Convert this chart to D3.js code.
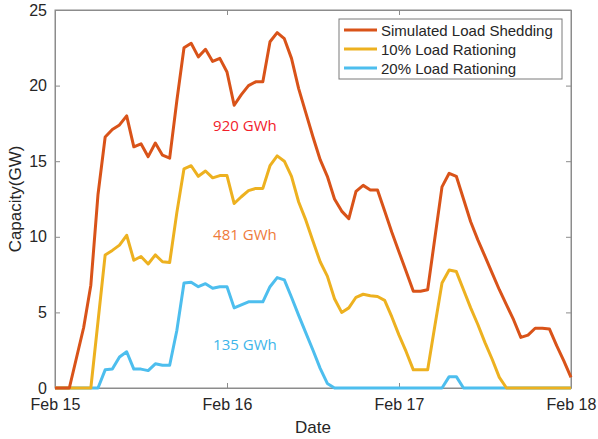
<!DOCTYPE html>
<html>
<head>
<meta charset="utf-8">
<script src="https://cdn.jsdelivr.net/npm/d3@7"></script>
<style>
  html, body { margin: 0; padding: 0; background: #fff; }
  svg { display: block; }
</style>
</head>
<body>
<svg id="chart" width="598" height="439"></svg>
<script>
// ---- data (hourly values starting Feb 15 00:00) ----
const startDate = new Date(2021, 1, 15, 0, 0);
const hoursPerStep = 1;
const seriesNames = ["Simulated Load Shedding", "10% Load Rationing", "20% Load Rationing"];
const seriesColors = ["#D95319", "#EDB120", "#4DBEEE"];
const loadShedding = [0, 0, 0, 2.0, 4.0, 6.8, 12.8, 16.6, 17.1, 17.4, 18.0, 15.95, 16.15, 15.3, 16.2, 15.4, 15.2, 19.0, 22.5, 22.8, 21.9, 22.4, 21.6, 21.8, 20.9, 18.7, 19.4, 20.0, 20.25, 20.25, 22.9, 23.5, 23.1, 21.8, 19.8, 18.2, 16.6, 15.1, 14.0, 12.5, 11.7, 11.2, 13.0, 13.4, 13.1, 13.1, 11.7, 10.3, 9.0, 7.7, 6.4, 6.4, 6.5, 9.9, 13.3, 14.2, 14.0, 12.5, 11.0, 9.8, 8.7, 7.6, 6.5, 5.5, 4.5, 3.35, 3.5, 3.95, 3.95, 3.9, 2.8, 1.8, 0.7];
const rationing10 = [0, 0, 0, 0, 0, 0, 4.4, 8.8, 9.1, 9.45, 10.1, 8.45, 8.7, 8.2, 8.8, 8.35, 8.3, 11.6, 14.5, 14.7, 14.0, 14.35, 13.9, 14.05, 14.05, 12.2, 12.65, 13.05, 13.2, 13.2, 14.7, 15.35, 15.0, 14.0, 12.3, 11.1, 9.7, 8.35, 7.4, 5.9, 5.0, 5.3, 6.0, 6.2, 6.1, 6.05, 5.8, 4.7, 3.5, 2.4, 1.2, 1.2, 1.2, 4.1, 6.95, 7.8, 7.7, 6.5, 5.3, 4.2, 3.0, 1.9, 0.7, 0, 0, 0, 0, 0, 0, 0, 0, 0, 0];
const rationing20 = [0, 0, 0, 0, 0, 0, 0, 1.2, 1.25, 2.05, 2.4, 1.25, 1.25, 1.15, 1.6, 1.5, 1.5, 3.8, 6.95, 7.0, 6.7, 6.9, 6.6, 6.7, 6.7, 5.3, 5.5, 5.7, 5.7, 5.7, 6.7, 7.3, 7.15, 6.0, 4.8, 3.65, 2.5, 1.3, 0.3, 0, 0, 0, 0, 0, 0, 0, 0, 0, 0, 0, 0, 0, 0, 0, 0, 0.75, 0.75, 0, 0, 0, 0, 0, 0, 0, 0, 0, 0, 0, 0, 0, 0, 0, 0];
const xTickDates = [new Date(2021, 1, 15), new Date(2021, 1, 16), new Date(2021, 1, 17), new Date(2021, 1, 18)];
const yTicks = [0, 5, 10, 15, 20, 25];
const annotations = [
  { text: "920 GWh", day: new Date(2021, 1, 16, 2, 30), value: 17.0, color: "#F2202A" },
  { text: "481 GWh", day: new Date(2021, 1, 16, 2, 30), value: 9.8, color: "#EE7A3A" },
  { text: "135 GWh", day: new Date(2021, 1, 16, 2, 30), value: 2.5, color: "#3DB5EA" }
];

// ---- layout ----
const W = 598, H = 439;
const margin = { left: 55, right: 27, top: 10, bottom: 51 };
const iw = W - margin.left - margin.right;
const ih = H - margin.top - margin.bottom;
const svg = d3.select("#chart");
const g = svg.append("g").attr("transform", `translate(${margin.left},${margin.top})`);

const x = d3.scaleTime().domain([xTickDates[0], xTickDates[3]]).range([0, iw]);
const y = d3.scaleLinear().domain([0, 25]).range([ih, 0]);
const timeOf = i => new Date(startDate.getTime() + i * hoursPerStep * 3600 * 1000);

const axisColor = "#8c8c8c";
const textColor = "#262626";
const fam = "'Liberation Sans', Arial, Helvetica, sans-serif";

// box
g.append("rect").attr("x", 0).attr("y", 0).attr("width", iw).attr("height", ih)
  .attr("fill", "none").attr("stroke", axisColor).attr("stroke-width", 1);

// axes
const fmt = d3.timeFormat("%b %-d");
const xAxis = g.append("g").attr("transform", `translate(0,${ih})`)
  .call(d3.axisBottom(x).tickValues(xTickDates).tickFormat(fmt).tickSizeInner(-5).tickSizeOuter(0).tickPadding(11));
const xAxisTop = g.append("g")
  .call(d3.axisTop(x).tickValues(xTickDates).tickFormat("").tickSizeInner(-5).tickSizeOuter(0));
const yAxis = g.append("g")
  .call(d3.axisLeft(y).tickValues(yTicks).tickSizeInner(-5).tickSizeOuter(0).tickPadding(8));
const yAxisRight = g.append("g").attr("transform", `translate(${iw},0)`)
  .call(d3.axisRight(y).tickValues(yTicks).tickFormat("").tickSizeInner(-5).tickSizeOuter(0));
[xAxis, xAxisTop, yAxis, yAxisRight].forEach(a => {
  a.select(".domain").attr("stroke", axisColor);
  a.selectAll(".tick line").attr("stroke", axisColor);
  a.selectAll(".tick text").attr("fill", textColor).style("font-family", fam).style("font-size", "16px");
});

// lines
const line = d3.line().x((d, i) => x(timeOf(i))).y(d => y(d));
const allSeries = [loadShedding, rationing10, rationing20];
allSeries.slice().reverse().forEach((s, k) => {
  const idx = allSeries.length - 1 - k;
  g.append("path").datum(s).attr("d", line)
    .attr("fill", "none").attr("stroke", seriesColors[idx])
    .attr("stroke-width", 3).attr("stroke-linejoin", "round").attr("stroke-linecap", "butt");
});

// annotations
annotations.forEach(a => {
  g.append("text").attr("x", x(a.day)).attr("y", y(a.value))
    .attr("text-anchor", "middle").attr("fill", a.color)
    .style("font-family", "'Open Sans', 'Noto Sans', sans-serif").style("font-size", "15px")
    .text(a.text);
});

// axis labels
svg.append("text").attr("x", margin.left + iw / 2).attr("y", 433)
  .attr("text-anchor", "middle").attr("fill", textColor)
  .style("font-family", fam).style("font-size", "17px").text("Date");
svg.append("text").attr("transform", `translate(21,${margin.top + ih / 2}) rotate(-90)`)
  .attr("text-anchor", "middle").attr("fill", textColor)
  .style("font-family", fam).style("font-size", "17px").text("Capacity(GW)");

// legend
const lg = svg.append("g").attr("transform", "translate(339,19)");
lg.append("rect").attr("x", 0).attr("y", 0).attr("width", 223).attr("height", 60)
  .attr("fill", "#fff").attr("stroke", "#7a7a7a").attr("stroke-width", 1);
seriesNames.forEach((name, i) => {
  const yy = 11 + i * 19;
  lg.append("line").attr("x1", 5).attr("x2", 38).attr("y1", yy).attr("y2", yy)
    .attr("stroke", seriesColors[i]).attr("stroke-width", 3);
  lg.append("text").attr("x", 42).attr("y", yy + 5.5).attr("fill", textColor)
    .style("font-family", fam).style("font-size", "15px").text(name);
});
</script>
</body>
</html>
